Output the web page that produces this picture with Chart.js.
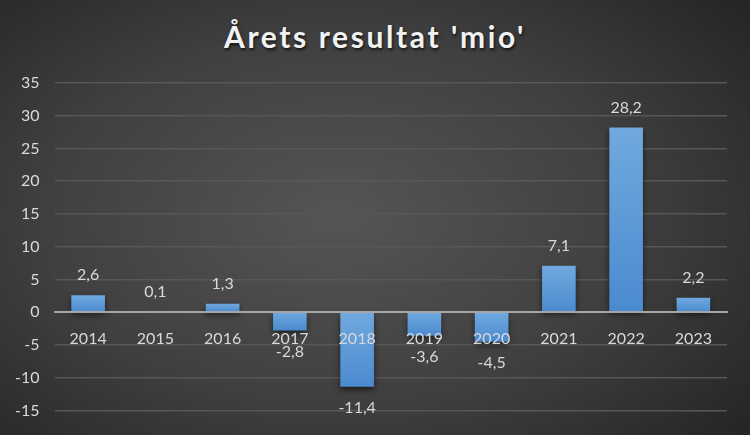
<!DOCTYPE html>
<html>
<head>
<meta charset="utf-8">
<script src="https://cdn.jsdelivr.net/npm/chart.js@4"></script>
<style>
  html, body { margin: 0; padding: 0; }
  body {
    width: 750px; height: 435px; overflow: hidden; position: relative;
    background: radial-gradient(ellipse 70% 75% at 45% 50%, #555555 0%, #404040 55%, #262626 100%);
    font-family: Lato, "Open Sans", sans-serif;
  }
  #title {
    position: absolute; top: 18px; left: 0; width: 750px; text-align: center;
    color: #f2f2f2; font-size: 30px; font-weight: bold; letter-spacing: 2.6px;
    text-shadow: 1px 2px 3px rgba(0,0,0,0.7);
  }
  #wrap { position: absolute; left: 0; top: 0; width: 750px; height: 435px; }
</style>
</head>
<body>
<div id="title">Årets resultat 'mio'</div>
<div id="wrap"><canvas id="chart"></canvas></div>
<script>
const years = ['2014', '2015', '2016', '2017', '2018', '2019', '2020', '2021', '2022', '2023'];
const resultat = [2.6, 0.1, 1.3, -2.8, -11.4, -3.6, -4.5, 7.1, 28.2, 2.2];
const yMin = -15, yMax = 35, yStep = 5;

const textColor = '#d9d9d9';
const fontFamily = 'Lato, "Open Sans", sans-serif';

function fmt(v) {
    return String(v).replace('.', ',');
}

// Per-bar vertical gradient, lighter at the top
function barGradient(context) {
    const chart = context.chart;
    const y = chart.scales.y;
    if (!y || context.dataIndex === undefined) return '#5b9bd5';
    const v = context.dataset.data[context.dataIndex];
    const p1 = y.getPixelForValue(v);
    const p0 = y.getPixelForValue(0);
    if (!isFinite(p0) || !isFinite(p1)) return '#5b9bd5';
    const top = Math.min(p0, p1), bottom = Math.max(p0, p1);
    if (bottom - top < 1) return '#5b9bd5';
    const g = chart.ctx.createLinearGradient(0, top, 0, bottom);
    g.addColorStop(0, '#71a9df');
    g.addColorStop(1, '#4a8acf');
    return g;
}

const barShadow = {
    id: 'barShadow',
    beforeDatasetsDraw(chart) {
        const ctx = chart.ctx;
        ctx.save();
        ctx.shadowColor = 'rgba(0,0,0,0.55)';
        ctx.shadowBlur = 6;
        ctx.shadowOffsetY = 3;
    },
    afterDatasetsDraw(chart) {
        chart.ctx.restore();
    }
};

// Value labels above positive bars, below negative ones
const valueLabels = {
    id: 'valueLabels',
    afterDraw(chart) {
        const ctx = chart.ctx;
        const meta = chart.getDatasetMeta(0);
        ctx.save();
        ctx.font = '16px ' + fontFamily;
        ctx.fillStyle = textColor;
        ctx.textAlign = 'center';
        ctx.textBaseline = 'middle';
        meta.data.forEach((bar, i) => {
            const v = resultat[i];
            const y = v >= 0 ? bar.y - 20 : bar.y + 21;
            ctx.fillText(fmt(v), bar.x, y);
        });
        ctx.restore();
    }
};

new Chart(document.getElementById('chart'), {
    type: 'bar',
    data: {
        labels: years,
        datasets: [{
            data: resultat,
            backgroundColor: barGradient,
            borderWidth: 0,
            barPercentage: 0.5,
            categoryPercentage: 1.0
        }]
    },
    options: {
        responsive: true,
        maintainAspectRatio: false,
        animation: false,
        layout: { padding: { left: 0, right: 23, top: 83, bottom: 13 } },
        plugins: {
            legend: { display: false },
            title: { display: false },
            tooltip: { enabled: false }
        },
        scales: {
            x: {
                position: { y: 0 },
                grid: { color: 'transparent', drawTicks: false },
                border: { display: true, color: '#a6a6a6', width: 2, z: 1 },
                ticks: {
                    z: 1,
                    color: textColor,
                    padding: 17,
                    font: { family: fontFamily, size: 16 }
                }
            },
            y: {
                min: yMin,
                max: yMax,
                ticks: {
                    stepSize: yStep,
                    color: textColor,
                    padding: 15,
                    font: { family: fontFamily, size: 16 },
                    callback: v => fmt(v)
                },
                grid: { color: '#575757', lineWidth: 1.5, drawTicks: false },
                border: { display: false }
            }
        }
    },
    plugins: [barShadow, valueLabels]
});
</script>
</body>
</html>
